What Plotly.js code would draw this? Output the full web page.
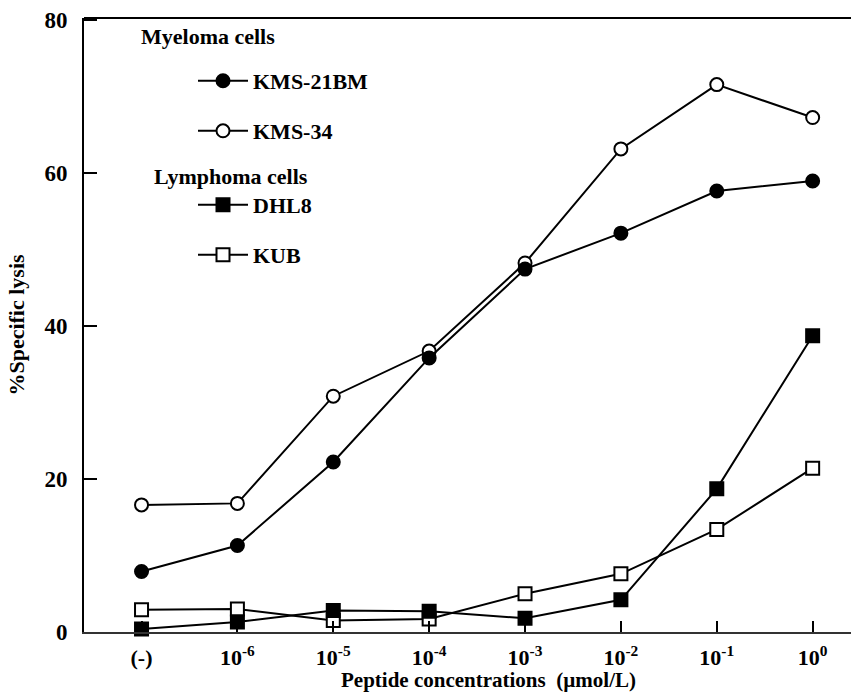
<!DOCTYPE html>
<html>
<head>
<meta charset="utf-8">
<script src="https://cdn.plot.ly/plotly-3.0.1.min.js"></script>
<style>html,body{margin:0;padding:0;background:#fff;}#chart{width:851px;height:694px;}</style>
</head>
<body>
<div id="chart"></div>
<script>
// Data
var categories = ["(-)", "10<sup>-6</sup>", "10<sup>-5</sup>", "10<sup>-4</sup>", "10<sup>-3</sup>", "10<sup>-2</sup>", "10<sup>-1</sup>", "10<sup>0</sup>"];
var kms21bm = [7.9, 11.3, 22.2, 35.8, 47.4, 52.1, 57.6, 58.9];
var kms34   = [16.6, 16.8, 30.8, 36.7, 48.2, 63.1, 71.5, 67.2];
var dhl8    = [0.4, 1.3, 2.8, 2.7, 1.8, 4.2, 18.7, 38.7];
var kub     = [2.9, 3.0, 1.5, 1.7, 5.0, 7.6, 13.4, 21.4];
var yTicks  = [0, 20, 40, 60, 80];

var FONT = "Liberation Serif, 'Times New Roman', Times, serif";
var W = 851, H = 694, ML = 84, MR = 0, MT = 18, MB = 62;
var plotH = H - MT - MB;
function py(pix) { return (H - MB - pix) / plotH; }
function px(pix) { return (pix - ML) / (W - ML - MR); }
function f(size) { return {family: FONT, size: size, color: "#000", weight: "bold"}; }

function mk(name, y, symbol, filled, legendId) {
  return {
    type: "scatter", mode: "lines+markers", name: name, x: categories, y: y,
    line: {color: "#000", width: 2},
    marker: {symbol: symbol, size: 13, color: filled ? "#000" : "#fff",
             line: {color: "#000", width: 2}},
    cliponaxis: false, legend: legendId
  };
}

var traces = [
  mk("KUB", kub, "square", false, "legend4"),
  mk("DHL8", dhl8, "square", true, "legend3"),
  mk("KMS-34", kms34, "circle", false, "legend2"),
  mk("KMS-21BM", kms21bm, "circle", true, "legend")
];

function leg(pixY) {
  return {x: px(193), y: py(pixY), xanchor: "left", yanchor: "middle", xref: "paper", yref: "paper",
          bgcolor: "rgba(0,0,0,0)", borderwidth: 0, itemwidth: 50, font: f(22)};
}

var layout = {
  width: W, height: H,
  margin: {l: ML, r: MR, t: MT, b: MB, pad: 0},
  paper_bgcolor: "#fff", plot_bgcolor: "#fff",
  font: f(22),
  showlegend: true,
  legend: leg(81), legend2: leg(131), legend3: leg(205), legend4: leg(255),
  xaxis: {
    type: "category", range: [-0.6, 7.4], showgrid: false, zeroline: false,
    showline: true, linecolor: "#333", linewidth: 2,
    ticks: "inside", ticklen: 11, tickwidth: 2, tickcolor: "#000",
    ticklabelstandoff: 5,
    tickfont: f(22)
  },
  yaxis: {
    range: [0, 80.2], tickvals: yTicks, ticktext: yTicks.map(String),
    showgrid: false, zeroline: false, showline: true, linecolor: "#000", linewidth: 2,
    ticks: "inside", ticklen: 13, tickwidth: 2, tickcolor: "#000",
    ticklabelstandoff: 10,
    tickfont: f(23),
    title: {text: "%Specific lysis", standoff: 14, font: f(22)}
  },
  shapes: [
    {type: "line", xref: "paper", yref: "paper", x0: 0, x1: 1, y0: 1, y1: 1,
     line: {color: "#000", width: 2}}
  ],
  annotations: [
    {text: "Myeloma cells", xref: "paper", yref: "paper", x: px(139), y: py(36),
     xanchor: "left", yanchor: "middle", showarrow: false, font: f(22)},
    {text: "Lymphoma cells", xref: "paper", yref: "paper", x: px(152), y: py(176),
     xanchor: "left", yanchor: "middle", showarrow: false, font: f(22)},
    {text: "Peptide concentrations\u00a0\u00a0(\u00b5mol/L)", xref: "paper", yref: "paper",
     x: px(488), y: py(693), xanchor: "center", yanchor: "bottom", showarrow: false,
     borderpad: 0, font: f(21)}
  ]
};

Plotly.newPlot("chart", traces, layout, {displayModeBar: false, staticPlot: true});
</script>
</body>
</html>
